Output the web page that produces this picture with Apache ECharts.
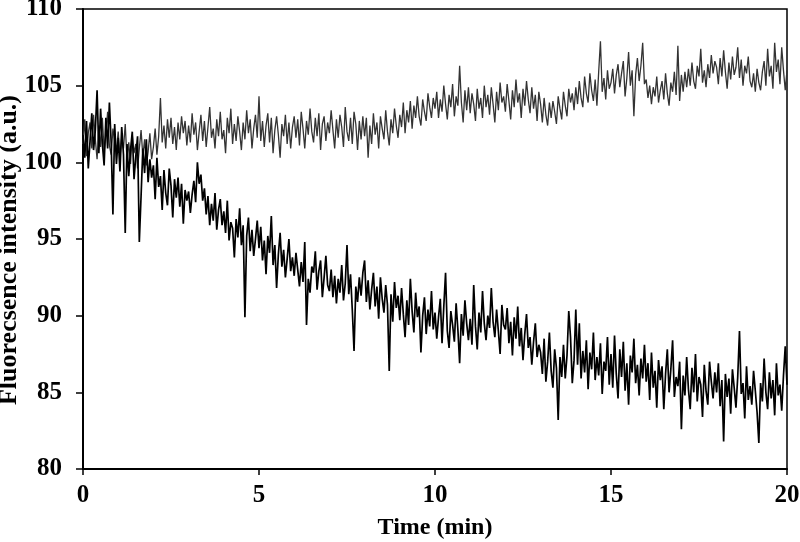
<!DOCTYPE html>
<html><head><meta charset="utf-8">
<script src="https://cdn.jsdelivr.net/npm/echarts@6/dist/echarts.min.js"></script>
<style>html,body{margin:0;padding:0;background:#fff}#c{width:800px;height:542px}</style>
</head><body><div id="c"></div>
<script>
// sampling step of the traces (min)
var timeStep = 0.05;
var xTicks = [0, 5, 10, 15, 20];
var yTicks = [80, 85, 90, 95, 100, 105, 110];
var xTitle = 'Time (min)';
var yTitle = 'Fluorecsence intensity (a.u.)';

// upper (rising) trace, one value per 0.05 min, t = 0 .. 20
var upperSeries = [
101.2,102.8,100.4,101.9,102.6,100.9,103.1,101.5,100.2,102.4,101.0,102.9,100.7,101.8,103.3,101.1,100.5,102.2,101.4,100.8,
102.0,100.3,101.6,100.9,102.5,100.1,101.3,99.9,101.8,100.6,101.2,99.6,100.9,102.1,100.4,101.5,99.8,100.7,101.9,100.2,
101.0,102.2,100.5,101.7,104.2,101.3,102.4,100.9,102.8,101.6,102.9,101.2,102.3,100.8,102.6,101.5,103.0,101.9,102.7,101.1,
102.4,101.3,103.2,101.8,102.6,100.8,102.0,103.1,101.4,102.7,101.0,102.3,103.6,101.6,102.2,100.9,102.8,101.7,103.3,101.5,
102.1,100.6,102.9,101.9,103.5,101.2,102.5,101.4,103.0,102.0,100.8,102.6,101.5,103.4,101.9,102.8,100.9,102.2,103.1,101.6,
104.3,101.4,102.7,101.0,102.4,103.2,101.3,102.9,100.6,102.1,103.0,101.8,100.3,102.5,101.7,103.1,101.2,102.6,100.9,102.3,
103.0,101.6,102.8,101.1,103.3,102.2,100.9,102.7,101.8,103.5,102.0,101.3,102.9,101.7,103.2,100.8,102.5,103.0,101.4,102.6,
101.9,103.4,102.1,100.9,102.8,101.6,103.1,102.3,101.0,103.6,102.0,101.4,102.9,101.2,103.3,102.5,100.8,102.7,101.5,103.0,
101.7,102.9,100.3,102.4,101.2,103.2,101.8,102.6,100.9,103.0,102.2,101.5,103.4,102.0,101.1,102.8,101.9,103.5,102.4,101.6,
103.1,102.3,103.9,101.9,103.4,102.6,104.0,102.2,103.7,102.9,104.3,103.0,102.4,104.1,103.3,102.7,104.5,103.6,102.9,104.2,
103.5,104.6,102.9,104.1,103.3,105.0,103.8,102.8,104.4,103.6,105.1,103.0,104.3,103.7,106.3,103.9,102.6,104.7,103.4,104.9,
103.2,104.5,103.8,102.7,104.8,103.5,104.2,102.9,105.0,103.6,104.4,103.1,104.9,103.8,102.6,104.6,103.4,105.2,103.9,104.3,
103.3,105.1,104.0,102.8,104.7,103.6,105.4,103.9,104.5,102.9,104.8,103.7,105.3,104.1,103.2,104.9,103.5,104.4,102.7,104.6,
103.8,102.6,104.2,103.1,102.4,103.9,102.9,104.0,103.3,102.5,104.3,103.5,102.8,104.6,103.7,103.0,104.8,103.9,104.5,103.4,
104.9,103.8,105.3,104.2,103.6,105.6,104.5,103.9,105.8,104.7,104.0,105.4,103.7,105.9,107.9,104.6,105.5,104.1,106.0,104.8,
105.2,106.1,104.5,105.7,106.4,104.9,105.8,106.6,104.3,105.5,107.2,105.0,106.0,103.0,105.7,106.8,105.3,106.3,107.8,105.1,
105.4,104.2,105.0,103.8,104.9,104.3,105.6,103.9,104.7,105.3,104.1,105.8,104.5,103.7,105.2,104.6,105.9,104.4,107.6,104.0,
105.7,104.6,105.9,104.9,106.1,105.0,106.5,105.3,104.8,106.3,105.6,107.4,105.2,106.0,104.9,106.4,105.5,107.0,105.8,106.6,
106.2,105.1,106.8,105.6,107.3,105.9,104.8,106.5,105.4,106.9,105.7,106.2,107.5,105.5,106.7,105.0,106.3,105.8,106.9,105.3,
104.9,105.8,104.6,106.1,105.2,104.7,105.9,106.6,105.0,107.4,105.6,106.3,104.8,107.8,105.9,106.7,105.1,107.5,106.0,104.7,
106.0
];

// lower (decaying) trace, one value per 0.05 min, t = 0 .. 20
var lowerSeries = [
101.8,100.3,102.7,99.6,101.4,103.2,100.8,102.1,104.7,100.6,103.5,101.2,99.8,102.9,100.9,103.9,101.3,96.6,102.5,99.9,
101.6,99.4,102.3,100.5,95.4,101.2,99.1,100.8,102.0,98.9,100.4,101.7,94.8,97.8,100.9,99.3,101.5,98.7,100.2,99.0,
99.8,97.6,100.3,98.4,99.1,96.9,99.5,98.0,97.2,99.6,98.5,96.4,98.9,97.7,99.0,97.1,98.6,96.0,98.2,97.5,
98.1,96.7,97.9,98.8,97.4,100.0,98.6,99.2,97.5,98.3,96.6,97.8,95.9,97.3,96.2,98.0,95.6,96.9,97.6,95.9,
96.8,95.4,97.5,94.9,96.1,95.7,93.8,96.3,95.1,97.0,94.6,95.9,89.9,95.2,96.4,94.2,95.6,93.9,95.0,96.2,
94.4,95.8,93.6,94.9,92.7,95.2,94.1,96.5,93.3,94.6,91.8,94.0,95.4,93.2,94.3,92.5,93.7,95.0,92.9,93.8,
92.6,94.1,93.0,91.9,93.5,92.2,94.8,89.4,92.4,91.5,93.2,92.8,94.2,91.7,92.9,93.6,91.2,92.5,93.9,92.0,
91.6,93.0,91.2,92.6,90.8,92.4,91.5,93.3,91.0,92.1,94.6,91.4,92.7,90.4,87.7,91.9,90.9,92.5,91.3,92.8,
93.6,90.9,92.3,90.4,91.7,92.8,90.6,91.9,89.8,92.5,91.1,90.2,92.0,90.7,86.4,91.4,89.6,92.2,90.5,91.3,
89.7,91.8,90.1,88.6,91.0,89.4,92.4,90.3,88.9,91.5,89.9,90.6,87.6,90.0,91.2,88.8,90.4,89.3,91.6,89.1,
90.2,88.5,89.9,91.1,88.2,90.6,92.8,89.0,87.9,90.3,89.4,88.3,90.8,89.1,86.9,90.1,88.7,91.0,89.5,88.4,
89.8,88.1,92.0,89.3,87.8,90.2,88.9,91.6,89.5,88.4,90.0,89.2,91.8,89.6,88.6,90.4,89.0,87.5,90.7,89.4,
89.1,90.5,88.2,89.6,87.4,89.9,88.5,90.6,88.0,89.2,87.1,88.8,90.1,87.9,88.6,86.8,88.3,89.5,87.3,88.1,
87.6,86.2,88.5,85.7,87.0,88.9,86.4,85.3,87.8,86.6,83.2,87.3,86.0,88.1,85.9,87.4,90.3,88.6,85.6,87.1,
90.4,86.8,89.5,85.9,87.7,86.3,88.4,85.2,87.6,86.5,88.9,85.8,87.3,86.1,88.2,84.9,87.0,86.4,88.6,85.5,
87.5,85.3,88.7,86.2,84.6,87.8,86.0,88.3,85.1,86.9,84.2,87.4,86.3,88.5,85.6,86.8,84.8,87.2,85.9,88.1,
85.7,86.9,84.5,87.6,85.3,86.4,84.0,87.1,85.8,86.7,83.9,86.2,87.8,85.0,86.5,88.4,84.7,86.0,85.4,87.0,
82.6,86.1,84.8,87.3,85.2,83.9,86.6,85.0,87.5,84.4,86.0,85.5,83.4,86.8,85.1,84.2,87.0,85.7,84.6,86.3,
85.0,86.9,84.1,85.8,81.8,86.2,84.7,85.9,83.6,86.5,85.3,84.0,86.0,89.0,84.9,85.6,83.3,86.7,84.5,85.4,
84.2,86.4,85.1,83.7,81.7,85.6,84.4,87.2,85.0,83.9,86.3,84.6,85.8,83.5,86.9,84.8,85.5,83.8,86.1,88.0,
85.5
];

function pairs(vals) {
  return vals.map(function (v, i) { return [+(i * timeStep).toFixed(2), v]; });
}

var font = '"Liberation Serif", "Times New Roman", serif';
var chart = echarts.init(document.getElementById('c'), null, {renderer: 'canvas'});
chart.setOption({
  animation: false,
  backgroundColor: '#fff',
  grid: {left: 83, right: 13, top: 9, bottom: 73, containLabel: false, outerBoundsMode: 'none',
         show: true, borderColor: '#000', borderWidth: 1.5, backgroundColor: 'transparent'},
  xAxis: {
    type: 'value', min: xTicks[0], max: xTicks[xTicks.length - 1], interval: 5,
    name: xTitle, nameLocation: 'middle', nameGap: 47, nameMoveOverlap: false,
    nameTextStyle: {fontFamily: font, fontWeight: 'bold', fontSize: 24, color: '#000'},
    axisLine: {show: true, lineStyle: {color: '#000', width: 2}},
    axisTick: {show: true, inside: false, length: 6, lineStyle: {color: '#000', width: 1.5}},
    axisLabel: {fontFamily: font, fontWeight: 'bold', fontSize: 25, color: '#000', margin: 14},
    splitLine: {show: false}
  },
  yAxis: {
    type: 'value', min: yTicks[0], max: yTicks[yTicks.length - 1], interval: 5,
    name: yTitle, nameLocation: 'middle', nameGap: 61, nameRotate: 90, nameMoveOverlap: false,
    nameTextStyle: {fontFamily: font, fontWeight: 'bold', fontSize: 26, color: '#000', padding: [0, 22, 0, 0]},
    axisLine: {show: true, lineStyle: {color: '#000', width: 2}},
    axisTick: {show: true, inside: false, length: 7, lineStyle: {color: '#000', width: 1.5}},
    axisLabel: {fontFamily: font, fontWeight: 'bold', fontSize: 25, color: '#000', margin: 21},
    splitLine: {show: false}
  },
  series: [
    {type: 'line', name: 'upper', data: pairs(upperSeries), showSymbol: false, symbol: 'none',
     lineStyle: {color: '#333', width: 1.3}, z: 2},
    {type: 'line', name: 'lower', data: pairs(lowerSeries), showSymbol: false, symbol: 'none',
     lineStyle: {color: '#000', width: 1.7}, z: 3}
  ]
});
</script>
</body></html>
